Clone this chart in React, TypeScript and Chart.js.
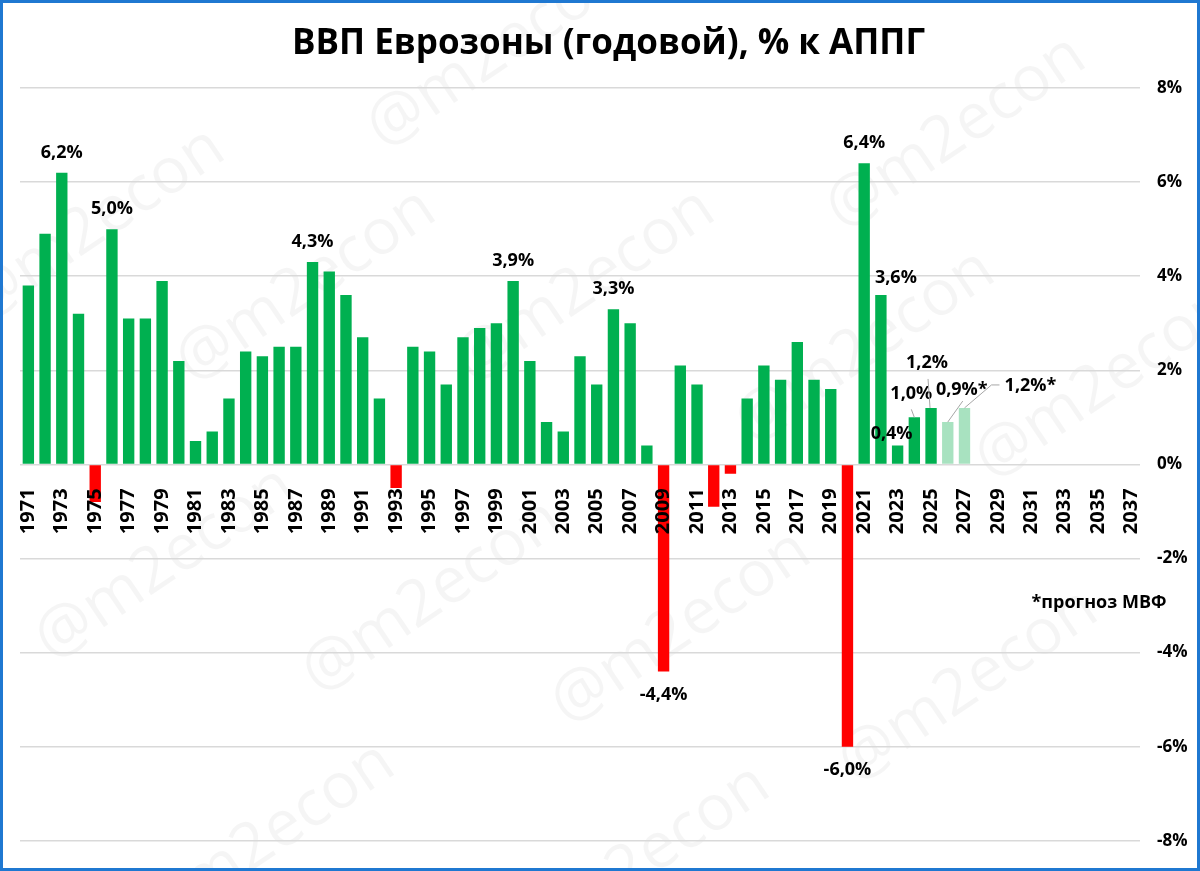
import React, { useEffect, useRef } from 'react';
import { Chart, registerables } from 'chart.js';

Chart.register(...registerables);

// ---------- DATA ----------
const years: string[] = [
  '1971', '1972', '1973', '1974', '1975', '1976', '1977', '1978', '1979', '1980',
  '1981', '1982', '1983', '1984', '1985', '1986', '1987', '1988', '1989', '1990',
  '1991', '1992', '1993', '1994', '1995', '1996', '1997', '1998', '1999', '2000',
  '2001', '2002', '2003', '2004', '2005', '2006', '2007', '2008', '2009', '2010',
  '2011', '2012', '2013', '2014', '2015', '2016', '2017', '2018', '2019', '2020',
  '2021', '2022', '2023', '2024', '2025', '2026', '2027', '2028', '2029', '2030',
  '2031', '2032', '2033', '2034', '2035', '2036', '2037',
];

const gdpGrowth: (number | null)[] = [
  3.8, 4.9, 6.2, 3.2, -0.8, 5.0, 3.1, 3.1, 3.9, 2.2,
  0.5, 0.7, 1.4, 2.4, 2.3, 2.5, 2.5, 4.3, 4.1, 3.6,
  2.7, 1.4, -0.5, 2.5, 2.4, 1.7, 2.7, 2.9, 3.0, 3.9,
  2.2, 0.9, 0.7, 2.3, 1.7, 3.3, 3.0, 0.4, -4.4, 2.1,
  1.7, -0.9, -0.2, 1.4, 2.1, 1.8, 2.6, 1.8, 1.6, -6.0,
  6.4, 3.6, 0.4, 1.0, 1.2, 0.9, 1.2, null, null, null,
  null, null, null, null, null, null, null,
];

const forecastYears: string[] = ['2026', '2027'];

const yTickValues: number[] = [-8, -6, -4, -2, 0, 2, 4, 6, 8];

const labeledYears: string[] = [
  '1973', '1976', '1988', '2000', '2006', '2009', '2020',
  '2021', '2022', '2023', '2024', '2025', '2026', '2027',
];

const titleText = 'ВВП Еврозоны (годовой), % к АППГ';
const noteText = '*прогноз МВФ';
const watermarkText = '@m2econ';

// ---------- STYLES ----------
const FONT = "'Open Sans', 'Noto Sans', sans-serif";
const GREEN = '#00B050';
const LIGHT_GREEN = '#A8E2C0';
const RED = '#FF0000';
const GRID = '#D9D9D9';
const LEADER = '#A6A6A6';

type LabelStyle = { dx: number; dy: number; leader?: number[][] };
const LABEL_STYLE: Record<string, LabelStyle> = {
  '2022': { dx: 15, dy: -17 },
  '2023': { dx: -6, dy: -12 },
  '2024': { dx: -3, dy: -23, leader: [[0, 0], [-3, -8]] },
  '2025': { dx: -4, dy: -45, leader: [[-1, 0], [-3, -29]] },
  '2026': { dx: 14, dy: -32, leader: [[0, 0], [15, -21]] },
  '2027': { dx: 66, dy: -22, leader: [[0, 0], [27, -23], [35, -23]] },
};

const NOTE_POS = { x: 1096, y: 600 };

const WATERMARK_CENTERS: number[][] = [
  [95, 225], [306, 286], [497, 52], [585, 286], [865, 347], [956, 133],
  [1105, 383], [165, 564], [432, 597], [681, 628], [968, 686], [265, 840], [640, 862],
];

const formatValue = (v: number, year: string) =>
  v.toFixed(1).replace('.', ',') + '%' + (forecastYears.includes(year) ? '*' : '');

const barColors = gdpGrowth.map((v, i) => {
  if (forecastYears.includes(years[i])) return LIGHT_GREEN;
  return v !== null && v < 0 ? RED : GREEN;
});

const annotationsPlugin = {
  id: 'annotations',
  beforeDraw(chart: any) {
    const ctx = chart.ctx as CanvasRenderingContext2D;
    ctx.save();
    ctx.font = `400 64px ${FONT}`;
    ctx.fillStyle = 'rgba(0,0,0,0.04)';
    ctx.textAlign = 'center';
    ctx.textBaseline = 'middle';
    for (const [cx, cy] of WATERMARK_CENTERS) {
      ctx.save();
      ctx.translate(cx - 3, cy - 3);
      ctx.rotate((-34 * Math.PI) / 180);
      ctx.fillText(watermarkText, 0, 0);
      ctx.restore();
    }
    ctx.restore();
  },
  afterDatasetsDraw(chart: any) {
    const ctx = chart.ctx as CanvasRenderingContext2D;
    const meta = chart.getDatasetMeta(0);
    ctx.save();
    ctx.font = `bold 18px ${FONT}`;
    ctx.fillStyle = '#000';
    ctx.textAlign = 'center';
    ctx.textBaseline = 'middle';
    for (const year of labeledYears) {
      const idx = years.indexOf(year);
      const v = gdpGrowth[idx];
      if (v === null || idx < 0) continue;
      const el = meta.data[idx];
      const style = LABEL_STYLE[year] || { dx: 0, dy: v < 0 ? 23 : -20 };
      if (style.leader) {
        ctx.save();
        ctx.strokeStyle = LEADER;
        ctx.lineWidth = 1;
        ctx.beginPath();
        style.leader.forEach(([lx, ly], k) => {
          if (k === 0) ctx.moveTo(el.x + lx, el.y + ly);
          else ctx.lineTo(el.x + lx, el.y + ly);
        });
        ctx.stroke();
        ctx.restore();
      }
      ctx.fillText(formatValue(v, year), el.x + style.dx, el.y + style.dy);
    }
    ctx.fillText(noteText, NOTE_POS.x, NOTE_POS.y);
    ctx.restore();
  },
};

export default function App() {
  const ref = useRef<HTMLCanvasElement>(null);

  useEffect(() => {
    if (!ref.current) return;
    const chart = new Chart(ref.current, {
      type: 'bar',
      data: {
        labels: years,
        datasets: [
          {
            data: gdpGrowth,
            backgroundColor: barColors,
            borderWidth: 0,
            barPercentage: 0.68,
            categoryPercentage: 1.0,
          },
        ],
      },
      options: {
        animation: false,
        responsive: true,
        maintainAspectRatio: false,
        layout: { padding: { left: 17, right: 0, top: 0, bottom: 19 } },
        plugins: {
          legend: { display: false },
          tooltip: { enabled: false },
          title: {
            display: true,
            text: titleText,
            color: '#000',
            font: { family: FONT, size: 35, weight: 'bold', lineHeight: 1.2 },
            padding: { top: 20, bottom: 23 },
          },
        },
        scales: {
          x: {
            position: { y: 0 } as any,
            grid: { display: false },
            border: { display: false },
            afterFit: (scale: any) => {
              scale.height = 0;
            },
            ticks: {
              z: 1,
              autoSkip: false,
              maxRotation: 90,
              minRotation: 90,
              padding: 16,
              color: '#000',
              font: { family: FONT, size: 20, weight: 'bold' },
              callback: (_v: any, i: number) => (i % 2 === 0 ? years[i] : ''),
            },
          },
          y: {
            position: 'right',
            min: -8,
            max: 8,
            afterBuildTicks: (scale: any) => {
              scale.ticks = yTickValues.map((value) => ({ value }));
            },
            afterFit: (scale: any) => {
              scale.width = 57;
            },
            grid: { color: GRID, lineWidth: 1.5, drawTicks: false },
            border: { display: false },
            ticks: {
              padding: 17,
              color: '#000',
              font: { family: FONT, size: 17, weight: 'bold' },
              callback: (v: any) => `${v}%`,
            },
          },
        },
      },
      plugins: [annotationsPlugin],
    });
    return () => chart.destroy();
  }, []);

  return (
    <div
      style={{
        position: 'fixed',
        left: 0,
        top: 0,
        width: 1200,
        height: 871,
        boxSizing: 'border-box',
        border: '3px solid #1F78D1',
        background: '#fff',
      }}
    >
      <div style={{ position: 'relative', width: 1194, height: 865 }}>
        <canvas ref={ref} />
      </div>
    </div>
  );
}
